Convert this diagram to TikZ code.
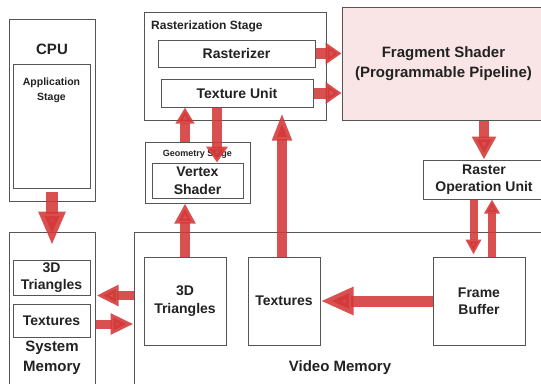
\documentclass[tikz,border=0pt]{standalone}
\usepackage{fontspec}
\setmainfont{Liberation Sans}
\usetikzlibrary{arrows.meta}
\definecolor{arrowred}{RGB}{212,56,56}
\definecolor{boxcol}{RGB}{85,85,85}
\definecolor{fragfill}{RGB}{249,229,229}
\definecolor{txt}{RGB}{34,34,34}
\begin{document}
\begin{tikzpicture}[x=1pt,y=-1pt,
  box/.style={draw=boxcol, line width=1pt, fill=white, inner sep=0pt, align=center, text=txt,
    font=\bfseries\fontsize{14}{17.5}\selectfont},
  lbl/.style={inner sep=0pt, align=center, text=txt, font=\bfseries\fontsize{14}{17.5}\selectfont},
  blk/.style n args={3}{draw=arrowred, opacity=0.88, line width=#1, -{Triangle[width=#2,length=#3]}}
]
\useasboundingbox (0,0) rectangle (541,383);
\clip (0,0) rectangle (541,383);

% CPU
\node[box, minimum width=86pt, minimum height=182pt] (cpu) at (52,110) {};
\node[box, minimum width=77pt, minimum height=124pt] (app) at (51.5,126) {};
\node[lbl, font=\bfseries\fontsize{15}{18}\selectfont] (cpulbl) at (52,49) {CPU};
\node[lbl, font=\bfseries\fontsize{10.5}{15}\selectfont] (applbl) at (51.5,90.5) {Application\\Stage};

% System memory
\node[box, minimum width=86pt, minimum height=168pt] (sysmem) at (52,316) {};
\node[box, minimum width=77pt, minimum height=35pt] (tri1) at (51.5,277.5) {3D\\Triangles};
\node[box, minimum width=77pt, minimum height=33pt] (tex1) at (51.5,320.5) {Textures};
\node[lbl, font=\bfseries\fontsize{15}{20}\selectfont] (syslbl) at (52,358) {System\\Memory};

% Video memory
\node[box, minimum width=426pt, minimum height=168pt] (vidmem) at (347,316) {};
\node[box, minimum width=82pt, minimum height=88pt] (tri2) at (185,301) {3D\\Triangles};
\node[box, minimum width=72pt, minimum height=88pt] (tex2) at (284,301) {Textures};
\node[box, minimum width=92pt, minimum height=88pt] (fb) at (479,301) {Frame\\Buffer};
\node[lbl, font=\bfseries\fontsize{15}{18}\selectfont] (vidlbl) at (340,368) {Video Memory};

% Rasterization stage
\node[box, minimum width=182pt, minimum height=108pt] (rast) at (235,66) {};
\node[lbl, anchor=west, font=\bfseries\fontsize{12}{14}\selectfont] (rastlbl) at (151,26) {Rasterization Stage};
\node[box, minimum width=157pt, minimum height=27pt] (rasterizer) at (236.5,53.5) {Rasterizer};
\node[box, minimum width=152pt, minimum height=28pt] (texunit) at (237,93) {Texture Unit};

% Geometry stage
\node[box, minimum width=105pt, minimum height=61pt] (geom) at (197.5,172.5) {};
\node[lbl, font=\bfseries\fontsize{9}{11}\selectfont] (geomlbl) at (197.5,154) {Geometry Stage};
\node[box, minimum width=91pt, minimum height=35pt] (vertex) at (197.5,180.5) {Vertex\\Shader};

% Fragment shader and ROU
\node[box, fill=fragfill, minimum width=203pt, minimum height=113pt,
  font=\bfseries\fontsize{15}{20}\selectfont] (frag) at (443.5,63.5) {Fragment Shader\\(Programmable Pipeline)};
\node[box, minimum width=122pt, minimum height=39pt] (rou) at (484,179.5) {Raster\\Operation Unit};

% helper coordinates
\coordinate (c1s) at ([yshift=10pt]cpu.south);
\coordinate (c1e) at ([yshift=-14pt]sysmem.north);
\coordinate (c2e) at ([xshift=6pt]tri1.east);
\coordinate (c6) at ([xshift=19.5pt]vertex.north);
\coordinate (c7) at ([xshift=-2pt]tex2.north);
\coordinate (c7e) at ([yshift=8pt]rast.south);
\coordinate (c11) at ([xshift=-10.5pt]rou.south);
\coordinate (c11e) at ([yshift=2pt]fb.north);
\coordinate (c12) at ([xshift=13pt]fb.north);

% arrows
\draw[blk={12pt}{25pt}{34pt}] (c1s) -- (c1e);
\draw[blk={9pt}{20pt}{22pt}] (vidmem.west |- tri1.south) -- (c2e |- tri1.south);
\draw[blk={9pt}{20pt}{23pt}] (sysmem.east |- 0,324) -- (vidmem.west |- 0,324);
\draw[blk={10pt}{20pt}{20pt}] (tri2.north) -- (tri2.north |- geom.south);
\draw[blk={10pt}{18pt}{16pt}] (tri2.north |- geom.north) -- (tri2.north |- texunit.south);
\draw[blk={10pt}{21pt}{16pt}] (c6 |- texunit.south) -- (c6);
\draw[blk={10pt}{18pt}{28pt}] (c7) -- (c7 |- c7e);
\draw[blk={11pt}{21pt}{16pt}] (rasterizer.east) -- (rasterizer.east -| frag.west);
\draw[blk={11pt}{21pt}{16pt}] (texunit.east) -- (texunit.east -| frag.west);
\draw[blk={10pt}{23pt}{23pt}] (rou.north |- frag.south) -- (rou.north);
\draw[blk={8pt}{15pt}{15pt}] (c11) -- (c11 |- c11e);
\draw[blk={8pt}{15pt}{14pt}] (c12) -- (c12 |- rou.south);
\draw[blk={11pt}{26pt}{33pt}] (fb.west) -- (tex2.east);
\end{tikzpicture}
\end{document}
